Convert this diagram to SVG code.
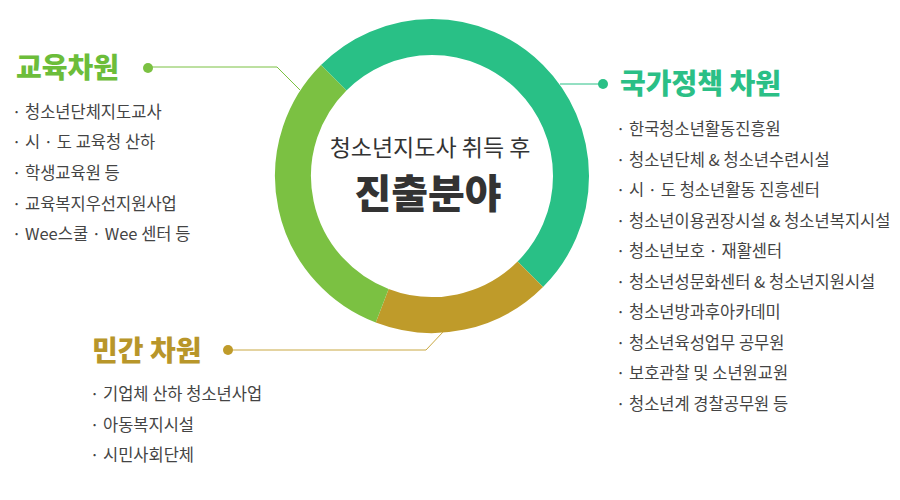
<svg xmlns="http://www.w3.org/2000/svg" width="900" height="500" viewBox="0 0 900 500">
<style>
text{font-family:"Noto Sans CJK KR","Noto Sans",sans-serif}
.it{font-size:16.5px;fill:#444}
.h{font-size:28px;font-weight:900}
.seg{fill:none;stroke-width:36}
</style>
<rect width="900" height="500" fill="#fff"/>
<g id="ring">
<path class="seg" stroke="#29c086" d="M333.7,77.7 A139,139 0 0 1 530.3,274.3"/>
<path class="seg" stroke="#bf9b2a" d="M530.3,274.3 A139,139 0 0 1 382.2,305.8"/>
<path class="seg" stroke="#7bc142" d="M382.2,305.8 A139,139 0 0 1 333.7,77.7"/>
<text x="430" y="156" text-anchor="middle" font-size="23" fill="#333">청소년지도사 취득 후</text>
<text x="428" y="208" text-anchor="middle" font-size="40" font-weight="900" fill="#333">진출분야</text>
</g>
<g id="connectors" fill="none" stroke-width="1">
<polyline stroke="#7bc142" points="148,67 277,67 300,90"/>
<polyline stroke="#29c086" points="560,84 603,84"/>
<polyline stroke="#c9a842" points="443,332 426,350 228,350"/>
</g>
<g id="edu">
<circle cx="148" cy="68" r="5" fill="#7bc142"/>
<text class="h" x="16" y="78" fill="#6cbd3a">교육차원</text>
<g class="it">
<text x="12" y="118">·  청소년단체지도교사</text>
<text x="12" y="148">·  시 · 도 교육청 산하</text>
<text x="12" y="179">·  학생교육원 등</text>
<text x="12" y="210">·  교육복지우선지원사업</text>
<text x="12" y="240">·  Wee스쿨 · Wee 센터 등</text>
</g>
</g>
<g id="nation">
<circle cx="603" cy="84" r="5" fill="#29c086"/>
<text class="h" x="620" y="94" fill="#2bbf86">국가정책 차원</text>
<g class="it">
<text x="616" y="135">·  한국청소년활동진흥원</text>
<text x="616" y="166">·  청소년단체 &amp; 청소년수련시설</text>
<text x="616" y="196">·  시 · 도 청소년활동 진흥센터</text>
<text x="616" y="227">·  청소년이용권장시설 &amp; 청소년복지시설</text>
<text x="616" y="257">·  청소년보호 · 재활센터</text>
<text x="616" y="288">·  청소년성문화센터 &amp; 청소년지원시설</text>
<text x="616" y="318">·  청소년방과후아카데미</text>
<text x="616" y="349">·  청소년육성업무 공무원</text>
<text x="616" y="379">·  보호관찰  및 소년원교원</text>
<text x="616" y="410">·  청소년계 경찰공무원 등</text>
</g>
</g>
<g id="private">
<circle cx="228" cy="350" r="5" fill="#bf9b2a"/>
<text class="h" x="92" y="361" fill="#b8962a">민간 차원</text>
<g class="it">
<text x="90" y="400">·  기업체 산하 청소년사업</text>
<text x="90" y="431">·  아동복지시설</text>
<text x="90" y="461">·  시민사회단체</text>
</g>
</g>
</svg>
